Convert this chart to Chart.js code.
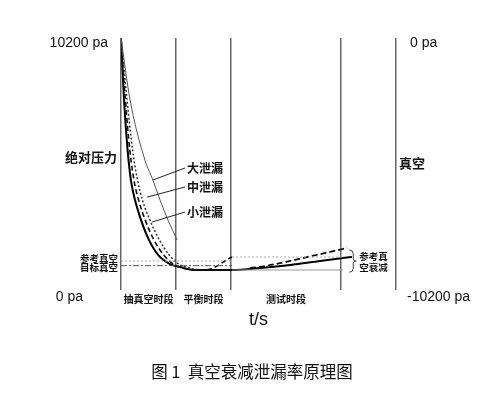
<!DOCTYPE html>
<html>
<head>
<meta charset="utf-8">
<script src="https://cdn.jsdelivr.net/npm/chart.js@4"></script>
<style>
  html, body { margin: 0; padding: 0; background: #fff; }
  #wrap { width: 504px; height: 398px; }
</style>
</head>
<body>
<div id="wrap"><canvas id="chart"></canvas></div>
<script>
// time axis 0..100, phase borders
const phaseTicks = [0, 20, 40, 80, 100]
const phaseNames = ['抽真空时段', '平衡时段', '测试时段']

// main measured curve (thick solid)
const mainT = [0, 1.1, 2.4, 3.6, 5.1, 7.3, 10.2, 13.5, 17.8, 21.5, 26.9, 32.4, 40.4, 50.5, 61.5, 72.4, 80.7, 84]
const mainP = [10200, 7690, 5670, 4450, 3640, 2830, 2020, 1420, 1050, 930, 810, 810, 810, 890, 1010, 1175, 1295, 1336]

// dashed curve (small leak) pump + balance phase
const smallT = [0, 1.6, 3.2, 4.7, 6.4, 8.8, 12, 15.5, 19, 21.5, 27, 30.5, 34.2, 37.8, 40.4]
const smallP = [10200, 7690, 5670, 4450, 3640, 2830, 2020, 1420, 1050, 930, 810, 810, 930, 1175, 1336]

// dashed curve in test phase
const testT = [46.9, 52.4, 60, 70, 82.2]
const testP = [890, 970, 1140, 1390, 1700]

// dotted curve (medium leak)
const midT = [0, 2.2, 4.2, 6, 7.8, 10.5, 14, 17.5, 21, 25, 28.7]
const midP = [10200, 7690, 5670, 4450, 3640, 2830, 2020, 1420, 1050, 890, 810]

// thin curve (large leak)
const bigT = [0, 3.3, 8.7, 11.6, 14.2, 17.1, 20.4]
const bigP = [10200, 7690, 5260, 4450, 3640, 2830, 2020]

// reference / target vacuum levels
const refP = 1175
const targetP = 985
const refTestP = 1336
const targetTestP = 810

const pts = (t, p) => t.map((v, i) => ({ x: v, y: p[i] }))

const curveLabels = [
  { text: '大泄漏', t: 11.6, p: 4450, ly: 168 },
  { text: '中泄漏', t: 9.5, p: 3760, ly: 187 },
  { text: '小泄漏', t: 11.3, p: 2750, ly: 212 },
]

const textPlugin = {
  id: 'texts',
  afterDraw(chart) {
    const ctx = chart.ctx
    const xs = chart.scales.x
    const ys = chart.scales.y
    const area = chart.chartArea
    ctx.save()
    ctx.fillStyle = '#111'
    ctx.textBaseline = 'middle'

    // axis value labels
    ctx.font = '14px "Liberation Sans", Arial, sans-serif'
    ctx.textAlign = 'right'
    ctx.fillText('10200 pa', area.left - 13, ys.getPixelForValue(10200) + 5)
    ctx.fillText('0 pa', area.left - 38, ys.getPixelForValue(0) + 7)
    ctx.textAlign = 'left'
    ctx.fillText('0 pa', area.right + 14, ys.getPixelForValue(10200) + 5)
    ctx.fillText('-10200 pa', area.right + 11, ys.getPixelForValue(0) + 7)

    // axis titles
    ctx.font = 'bold 13px "Noto Sans CJK SC", sans-serif'
    ctx.textAlign = 'right'
    ctx.fillText('绝对压力', area.left - 4, 157)
    ctx.textAlign = 'left'
    ctx.fillText('真空', area.right + 3, 163)

    ctx.font = '18px "Liberation Sans", Arial, sans-serif'
    ctx.textAlign = 'center'
    ctx.fillText('t/s', (area.left + area.right) / 2, 320)

    // phase names under the plot
    ctx.font = 'bold 10px "Noto Sans CJK SC", sans-serif'
    phaseNames.forEach((name, i) => {
      const x0 = xs.getPixelForValue(phaseTicks[i])
      const x1 = xs.getPixelForValue(phaseTicks[i + 1])
      ctx.fillText(name, (x0 + x1) / 2, area.bottom + 9)
    })

    // reference / target labels on left
    ctx.font = 'bold 9.5px "Noto Sans CJK SC", sans-serif'
    ctx.textAlign = 'right'
    ctx.fillText('参考真空', area.left - 3, ys.getPixelForValue(refP) - 3)
    ctx.fillText('目标真空', area.left - 3, ys.getPixelForValue(targetP) + 2)

    // leak curve labels with leader lines
    ctx.font = 'bold 12px "Noto Sans CJK SC", sans-serif'
    ctx.textAlign = 'left'
    ctx.strokeStyle = '#222'
    ctx.lineWidth = 1
    curveLabels.forEach(l => {
      ctx.fillText(l.text, 187, l.ly)
      ctx.beginPath()
      ctx.moveTo(185, l.ly)
      ctx.lineTo(xs.getPixelForValue(l.t), ys.getPixelForValue(l.p))
      ctx.stroke()
    })

    // bracket for decay
    const bx = xs.getPixelForValue(83)
    const by0 = ys.getPixelForValue(1620)
    const by1 = ys.getPixelForValue(720)
    const bm = (by0 + by1) / 2
    ctx.strokeStyle = '#444'
    ctx.beginPath()
    ctx.moveTo(bx, by0)
    ctx.quadraticCurveTo(bx + 4, by0, bx + 4, by0 + 4)
    ctx.lineTo(bx + 4, bm - 2)
    ctx.quadraticCurveTo(bx + 4, bm, bx + 7, bm)
    ctx.quadraticCurveTo(bx + 4, bm, bx + 4, bm + 2)
    ctx.lineTo(bx + 4, by1 - 4)
    ctx.quadraticCurveTo(bx + 4, by1, bx, by1)
    ctx.stroke()
    ctx.font = 'bold 9.5px "Noto Sans CJK SC", sans-serif'
    ctx.fillText('参考真', bx + 10, bm - 5)
    ctx.fillText('空衰减', bx + 10, bm + 6)

    // caption
    ctx.font = '16.5px "Noto Sans CJK SC", sans-serif'
    ctx.textAlign = 'center'
    ctx.fillText('图 1  真空衰减泄漏率原理图', 252, 372)
    ctx.restore()
  }
}

const lineSet = (data, color, width, dash) => ({
  data,
  borderColor: color,
  borderWidth: width,
  borderDash: dash,
  pointRadius: 0,
  fill: false,
  cubicInterpolationMode: 'monotone',
})

new Chart(document.getElementById('chart'), {
  type: 'line',
  data: {
    datasets: [
      lineSet(pts([0, 40.4], [refP, refP]), '#aaa', 1, [2, 2]),
      lineSet(pts([40.4, 80.7], [refTestP, refTestP]), '#aaa', 1, [2, 2]),
      lineSet(pts([0, 40.4], [targetP, targetP]), '#555', 1, [6, 2, 2, 2]),
      lineSet(pts([40.4, 80.7], [targetTestP, targetTestP]), '#999', 1, []),
      lineSet(pts(bigT, bigP), '#555', 1, []),
      lineSet(pts(midT, midP), '#333', 1.5, [2, 2]),
      lineSet(pts(smallT, smallP), '#111', 1.6, [5, 3]),
      lineSet(pts(testT, testP), '#111', 1.8, [6, 3]),
      lineSet(pts(mainT, mainP), '#000', 2, []),
    ]
  },
  options: {
    responsive: true,
    maintainAspectRatio: false,
    animation: false,
    layout: { padding: { left: 121, right: 108, top: 38, bottom: 108 } },
    plugins: { legend: { display: false }, tooltip: { enabled: false } },
    scales: {
      x: {
        type: 'linear',
        min: 0,
        max: 100,
        afterBuildTicks: axis => { axis.ticks = phaseTicks.map(v => ({ value: v })) },
        ticks: { display: false },
        grid: { color: '#666', lineWidth: 1.5, drawTicks: false },
        border: { display: false },
      },
      y: {
        min: 0,
        max: 10200,
        display: false,
      }
    }
  },
  plugins: [textPlugin]
})
</script>
</body>
</html>
